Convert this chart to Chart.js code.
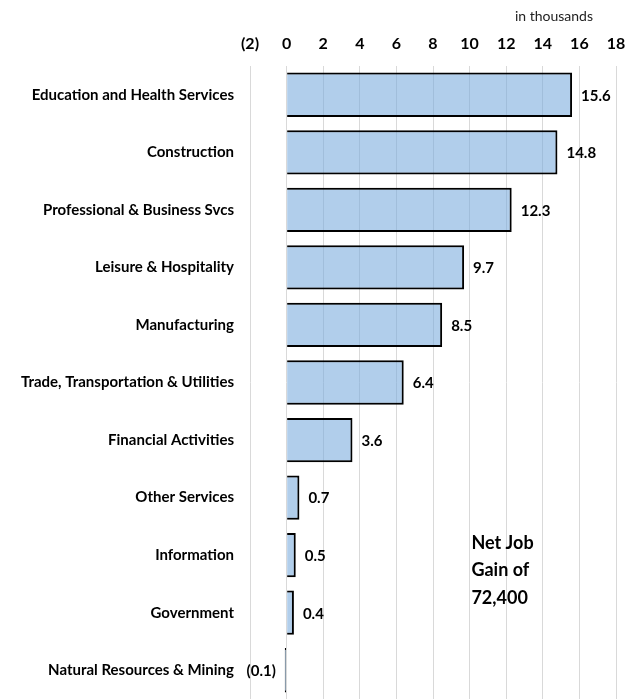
<!DOCTYPE html>
<html>
<head>
<meta charset="utf-8">
<script src="https://cdn.jsdelivr.net/npm/chart.js@4"></script>
<style>
    html, body { margin: 0; padding: 0; background: #fff; }
</style>
</head>
<body>
<canvas id="jobChart" width="640" height="700"></canvas>
<script>
const sectors = [
    "Education and Health Services",
    "Construction",
    "Professional & Business Svcs",
    "Leisure & Hospitality",
    "Manufacturing",
    "Trade, Transportation & Utilities",
    "Financial Activities",
    "Other Services",
    "Information",
    "Government",
    "Natural Resources & Mining"
];
const jobGains = [15.6, 14.8, 12.3, 9.7, 8.5, 6.4, 3.6, 0.7, 0.5, 0.4, -0.1];
const xTicks = [-2, 0, 2, 4, 6, 8, 10, 12, 14, 16, 18];
const unitNote = "in thousands";
const noteLines = ["Net Job", "Gain of", "72,400"];

const FONT = "Lato, 'Open Sans', sans-serif";

function fmt(v, digits) {
    const s = Math.abs(v).toFixed(digits);
    return v < 0 ? "(" + s + ")" : s;
}

const labelPlugin = {
    id: "labels",
    afterDatasetsDraw(chart) {
        const ctx = chart.ctx;
        const meta = chart.getDatasetMeta(0);
        const x = chart.scales.x;
        const y = chart.scales.y;

        ctx.save();
        ctx.fillStyle = "#000";
        ctx.font = "bold 15px " + FONT;
        ctx.textBaseline = "middle";
        meta.data.forEach((bar, i) => {
            const v = jobGains[i];
            if (v >= 0) {
                ctx.textAlign = "left";
                ctx.fillText(fmt(v, 1), bar.x + 9, bar.y + 1);
            } else {
                ctx.textAlign = "right";
                ctx.fillText(fmt(v, 1), bar.x - 9, bar.y + 1);
            }
        });

        // unit note above the axis
        ctx.font = "14px " + FONT;
        ctx.textAlign = "right";
        ctx.fillStyle = "#222";
        ctx.fillText(unitNote, 593, 16);

        // net gain note
        ctx.font = "bold 18px " + FONT;
        ctx.textAlign = "left";
        ctx.fillStyle = "#000";
        const nx = x.getPixelForValue(10.1);
        const ny = y.getPixelForValue(8);
        noteLines.forEach((line, i) => {
            ctx.fillText(line, nx, ny - 12 + i * 27.5);
        });
        ctx.restore();
    }
};

new Chart(document.getElementById("jobChart"), {
    type: "bar",
    data: {
        labels: sectors,
        datasets: [{
            data: jobGains,
            backgroundColor: "rgba(120,170,220,0.58)",
            borderColor: "#000",
            borderWidth: 2,
            barPercentage: 0.77,
            categoryPercentage: 1
        }]
    },
    options: {
        indexAxis: "y",
        responsive: false,
        animation: false,
        layout: { padding: { left: 0, right: 24, top: 0, bottom: 1 } },
        plugins: {
            legend: { display: false },
            tooltip: { enabled: false }
        },
        scales: {
            x: {
                position: "top",
                min: -2,
                max: 18,
                afterBuildTicks(scale) {
                    scale.ticks = xTicks.map(v => ({ value: v }));
                },
                afterFit(scale) { scale.height = 66; },
                grid: { color: "#d9d9d9", lineWidth: 1, drawTicks: false },
                border: { display: false },
                ticks: {
                    padding: 13,
                    maxRotation: 0,
                    autoSkip: false,
                    color: "#000",
                    font: { family: FONT, size: 16, weight: "bold" },
                    callback: v => fmt(v, 0)
                }
            },
            y: {
                afterFit(scale) {
                    scale.width = 250;
                    scale.paddingTop = 0;
                    scale.paddingBottom = 0;
                },
                grid: { display: false, drawTicks: false },
                border: { display: false },
                ticks: {
                    padding: 16,
                    autoSkip: false,
                    color: "#000",
                    font: { family: FONT, size: 15, weight: "bold" }
                }
            }
        }
    },
    plugins: [labelPlugin]
});
</script>
</body>
</html>
